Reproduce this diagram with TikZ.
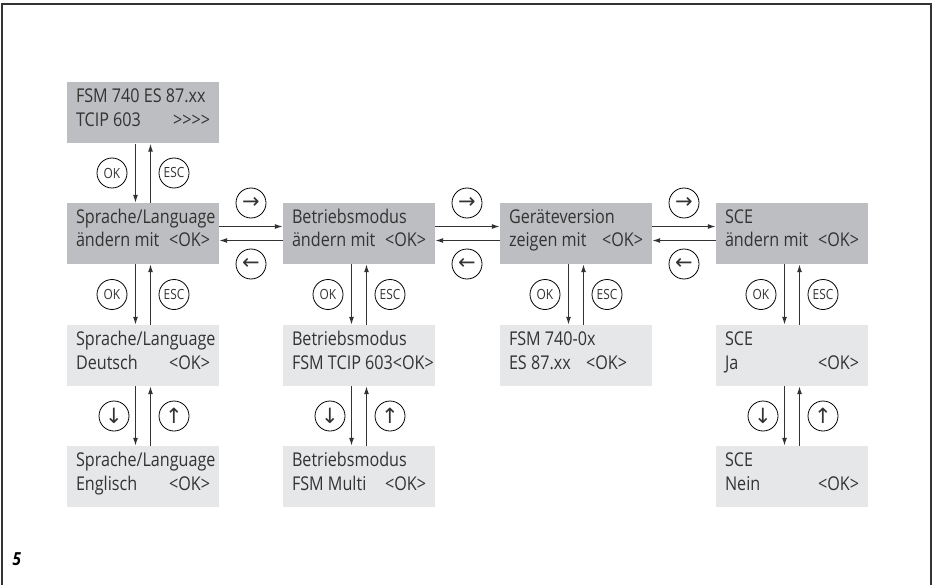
\documentclass[tikz,border=0pt]{standalone}
\usepackage{fontspec}
\setmainfont{Open Sans}[FakeStretch=0.85]
\newfontfamily\arrowfont{DejaVu Sans}
\usetikzlibrary{arrows.meta}
\definecolor{dispdark}{HTML}{BDBEC1}
\definecolor{displight}{HTML}{E6E7E8}
\definecolor{ink}{HTML}{333333}
\newcommand{\scrtext}[2]{\parbox[c][61pt][t]{134pt}{\rule{0pt}{20pt}#1\\#2}}
\newcommand{\okk}{<OK>}
\tikzset{
 screen/.style={rectangle, inner sep=0pt, minimum width=152pt, minimum height=61pt, text=ink, font=\fontsize{19}{24}\selectfont},
 mainscr/.style={screen, fill=dispdark},
 subscr/.style={screen, fill=displight},
 key/.style={circle, draw=black, line width=0.8pt, minimum size=30pt, inner sep=0pt, text=ink},
 keytxt/.style={key, font=\fontsize{14}{14}\selectfont},
 keyarr/.style={key, font=\arrowfont\fontsize{21}{21}\selectfont},
 flow/.style={draw=ink, line width=1.2pt, -{Latex[length=8pt,width=5pt]}},
}
\begin{document}
\begin{tikzpicture}[x=1pt,y=-1pt]
\useasboundingbox (0,0) rectangle (933,585);
\draw[ink, line width=1.2pt] (2,590) -- (2,4) -- (931,4) -- (931,590);

% screens
\node[mainscr] (top) at (143,113) {\scrtext{FSM 740 ES 87.xx}{TCIP 603\hfill>\kern0pt>\kern0pt>\kern0pt>}};
\node[mainscr] (s1) at (143,233.5) {\scrtext{Sprache/Language}{ändern mit\hfill\okk}};
\node[mainscr] (b1) at (359,233.5) {\scrtext{Betriebsmodus}{ändern mit\hfill\okk}};
\node[mainscr] (g1) at (576,233.5) {\scrtext{Geräteversion}{zeigen mit\hfill\okk}};
\node[mainscr] (c1) at (792,233.5) {\scrtext{SCE}{ändern mit\hfill\okk}};
\node[subscr] (s2) at (143,355.5) {\scrtext{Sprache/Language}{Deutsch\hfill\okk}};
\node[subscr] (s3) at (143,476.5) {\scrtext{Sprache/Language}{Englisch\hfill\okk}};
\node[subscr] (b2) at (359,355.5) {\scrtext{Betriebsmodus}{\makebox[134pt][l]{FSM TCIP 603\okk}}};
\node[subscr] (b3) at (359,476.5) {\scrtext{Betriebsmodus}{FSM Multi\hfill\okk}};
\node[subscr] (g2) at (576,355.5) {\scrtext{FSM 740-0x}{ES 87.xx\hfill\okk\hspace*{16pt}}};
\node[subscr] (c2) at (792,355.5) {\scrtext{SCE}{Ja\hfill\okk}};
\node[subscr] (c3) at (792,476.5) {\scrtext{SCE}{Nein\hfill\okk}};

% vertical connectors
\foreach \u/\l in {top/s1, s1/s2, s2/s3, b1/b2, b2/b3, g1/g2, c1/c2, c2/c3}{
  \draw[flow] ([xshift=-7.5pt]\u.south) -- ([xshift=-7.5pt]\l.north);
  \draw[flow] ([xshift=7.5pt]\l.north) -- ([xshift=7.5pt]\u.south);
}
% horizontal connectors
\foreach \a/\b in {s1/b1, b1/g1, g1/c1}{
  \draw[flow] ([yshift=7pt]\a.east) -- ([yshift=7pt]\b.west);
  \draw[flow] ([yshift=-7pt]\b.west) -- ([yshift=-7pt]\a.east);
}

% keys
\node[keytxt] (ok0) at (112,173) {OK};
\node[keytxt] (esc0) at (174,173) {ESC};
\node[keytxt] (ok1) at (112,294.5) {OK};
\node[keytxt] (esc1) at (174,294.5) {ESC};
\node[keytxt] (ok2) at (328,294.5) {OK};
\node[keytxt] (esc2) at (390,294.5) {ESC};
\node[keytxt] (ok3) at (545,294.5) {OK};
\node[keytxt] (esc3) at (607,294.5) {ESC};
\node[keytxt] (ok4) at (761,294.5) {OK};
\node[keytxt] (esc4) at (823,294.5) {ESC};
\node[keyarr] (dn1) at (114,416) {↓};
\node[keyarr] (up1) at (174,416) {↑};
\node[keyarr] (dn2) at (330,416) {↓};
\node[keyarr] (up2) at (390,416) {↑};
\node[keyarr] (dn4) at (763,416) {↓};
\node[keyarr] (up4) at (823,416) {↑};
\node[keyarr] (r1) at (251,203) {→};
\node[keyarr] (l1) at (251,264) {←};
\node[keyarr] (r2) at (467,203) {→};
\node[keyarr] (l2) at (467,264) {←};
\node[keyarr] (r3) at (684,203) {→};
\node[keyarr] (l3) at (684,264) {←};

\node[anchor=base west, text=black, font=\bfseries\itshape\fontsize{18}{18}\selectfont] (fig) at (9,565) {5};
\end{tikzpicture}
\end{document}
